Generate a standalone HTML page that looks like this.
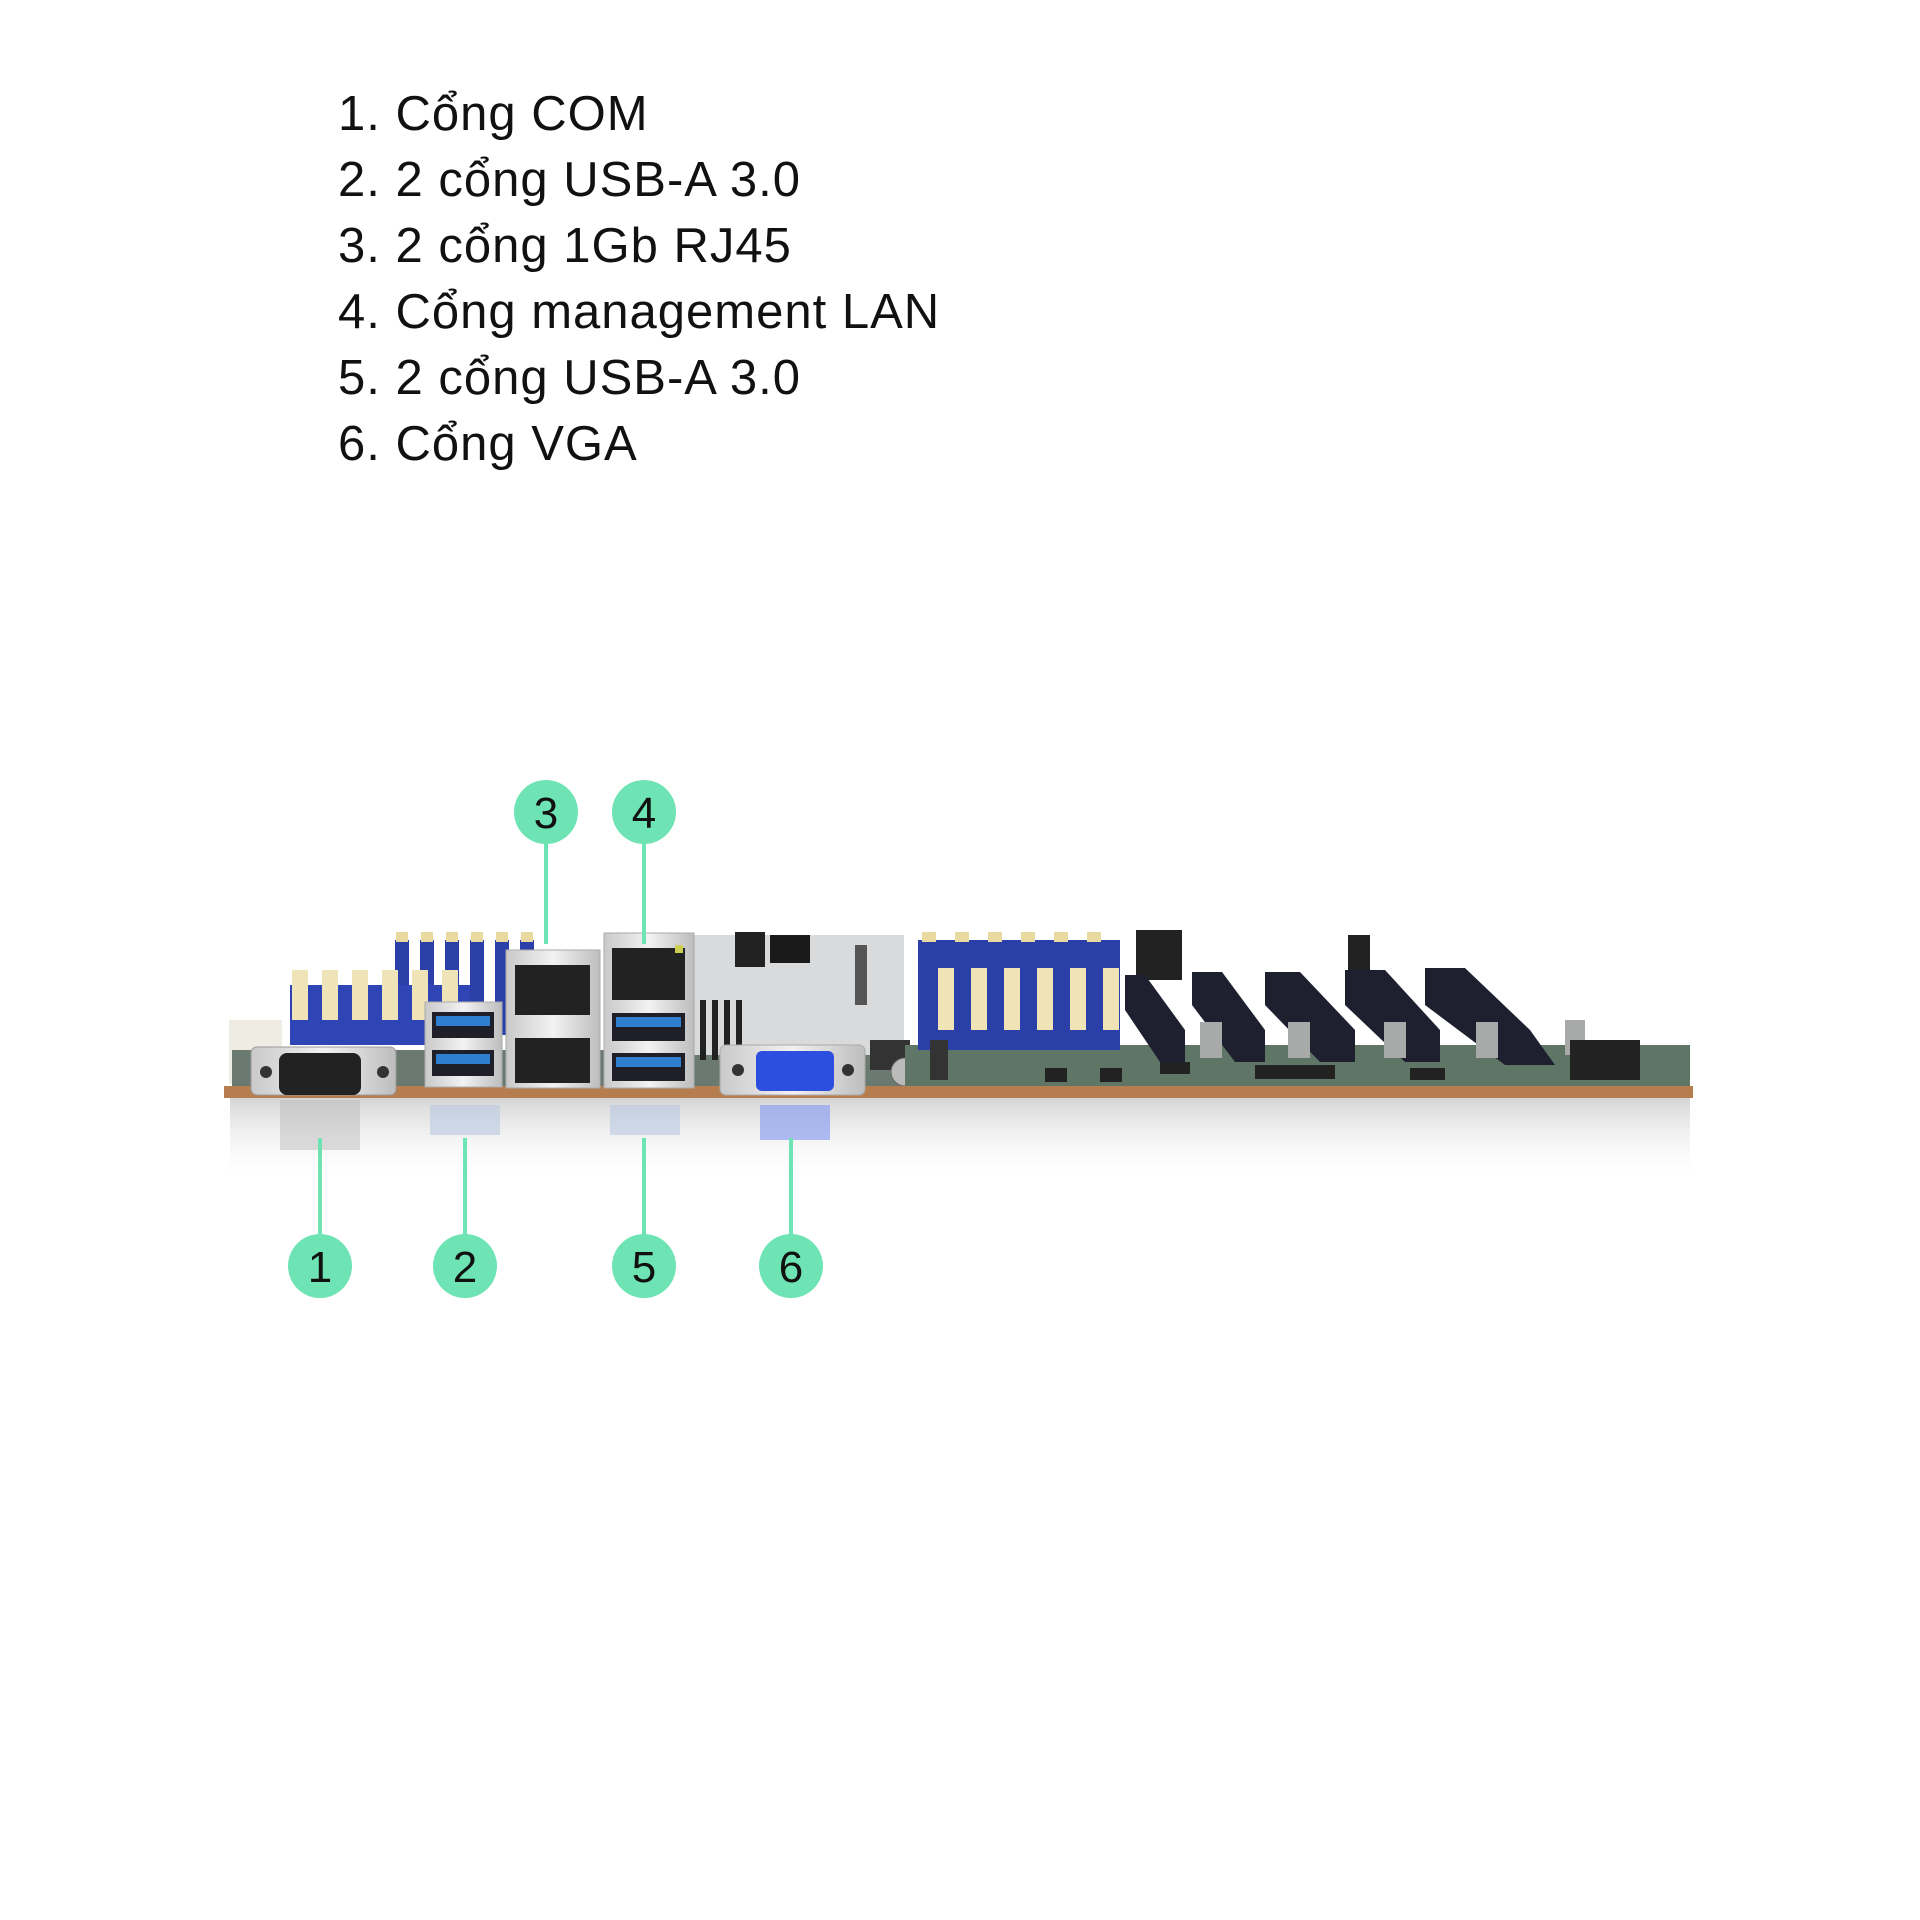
<!DOCTYPE html>
<html><head><meta charset="utf-8"><style>
html,body{margin:0;padding:0;background:#fff;width:1920px;height:1920px;overflow:hidden}
.t{position:absolute;left:338px;font-family:"Liberation Sans",sans-serif;font-size:49px;color:#111;line-height:66px;top:81px;letter-spacing:1px}
svg{position:absolute;left:0;top:0}
</style></head><body>
<div class="t">1. Cổng COM<br>2. 2 cổng USB-A 3.0<br>3. 2 cổng 1Gb RJ45<br>4. Cổng management LAN<br>5. 2 cổng USB-A 3.0<br>6. Cổng VGA</div>
<svg width="1920" height="1920" viewBox="0 0 1920 1920" font-family="Liberation Sans, sans-serif">
<defs>
<linearGradient id="refl" x1="0" y1="0" x2="0" y2="1">
<stop offset="0" stop-color="#d0d0d0" stop-opacity="0.9"/>
<stop offset="1" stop-color="#ffffff" stop-opacity="0"/>
</linearGradient>
<linearGradient id="silver" x1="0" y1="0" x2="1" y2="0">
<stop offset="0" stop-color="#c9c9c9"/><stop offset="0.5" stop-color="#f2f2f2"/><stop offset="1" stop-color="#bdbdbd"/>
</linearGradient>
</defs>
<rect x="230" y="1098" width="1460" height="85" fill="url(#refl)"/>
<rect x="280" y="1100" width="80" height="50" fill="#bbb" opacity="0.5"/>
<rect x="430" y="1105" width="70" height="30" fill="#b8c8e0" opacity="0.6"/>
<rect x="610" y="1105" width="70" height="30" fill="#b8c8e0" opacity="0.6"/>
<rect x="760" y="1105" width="70" height="35" fill="#8f9ff0" opacity="0.7"/>
<!-- back blue DIMMs left -->
<g fill="#2b3fa8">
<rect x="395" y="940" width="14" height="95"/><rect x="420" y="940" width="14" height="95"/><rect x="445" y="940" width="14" height="95"/><rect x="470" y="940" width="14" height="95"/><rect x="495" y="940" width="14" height="95"/><rect x="520" y="940" width="14" height="95"/>
</g>
<g fill="#e8d9a0"><rect x="396" y="932" width="12" height="10"/><rect x="421" y="932" width="12" height="10"/><rect x="446" y="932" width="12" height="10"/><rect x="471" y="932" width="12" height="10"/><rect x="496" y="932" width="12" height="10"/><rect x="521" y="932" width="12" height="10"/></g>
<rect x="290" y="985" width="180" height="60" fill="#2f44b5"/>
<g fill="#efe4b8"><rect x="292" y="970" width="16" height="50"/><rect x="322" y="970" width="16" height="50"/><rect x="352" y="970" width="16" height="50"/><rect x="382" y="970" width="16" height="50"/><rect x="412" y="970" width="16" height="50"/><rect x="442" y="970" width="16" height="50"/></g>
<rect x="229" y="1020" width="53" height="64" fill="#efece4"/>
<rect x="232" y="1050" width="700" height="38" fill="#6b7a70"/>
<!-- heatsink area -->
<rect x="694" y="935" width="210" height="120" fill="#d8dadb"/>
<g fill="#222"><rect x="700" y="1000" width="6" height="60"/><rect x="712" y="1000" width="6" height="60"/><rect x="724" y="1000" width="6" height="60"/><rect x="736" y="1000" width="6" height="60"/></g>
<rect x="735" y="932" width="30" height="35" fill="#222"/><rect x="770" y="935" width="40" height="28" fill="#1a1a1a"/>
<rect x="855" y="945" width="12" height="60" fill="#555"/>
<rect x="870" y="1040" width="40" height="30" fill="#333"/>
<circle cx="905" cy="1072" r="14" fill="#bbb" stroke="#666"/>
<!-- right green board -->
<rect x="905" y="1045" width="785" height="45" fill="#5f7566"/>
<g fill="#222"><rect x="1045" y="1068" width="22" height="14"/><rect x="1100" y="1068" width="22" height="14"/><rect x="1255" y="1065" width="80" height="14"/><rect x="1410" y="1068" width="35" height="12"/><rect x="1160" y="1062" width="30" height="12"/></g>
<!-- right DIMMs -->
<rect x="918" y="940" width="202" height="110" fill="#2b3fa8"/>
<g fill="#f0e3b6"><rect x="938" y="968" width="16" height="62"/><rect x="971" y="968" width="16" height="62"/><rect x="1004" y="968" width="16" height="62"/><rect x="1037" y="968" width="16" height="62"/><rect x="1070" y="968" width="16" height="62"/><rect x="1103" y="968" width="16" height="62"/></g>
<g fill="#e8d9a0"><rect x="922" y="932" width="14" height="10"/><rect x="955" y="932" width="14" height="10"/><rect x="988" y="932" width="14" height="10"/><rect x="1021" y="932" width="14" height="10"/><rect x="1054" y="932" width="14" height="10"/><rect x="1087" y="932" width="14" height="10"/></g>
<rect x="930" y="1040" width="18" height="40" fill="#333"/>
<!-- PCIe slots -->
<rect x="1136" y="930" width="46" height="50" fill="#222"/>
<rect x="1348" y="935" width="22" height="45" fill="#222"/>
<g fill="#1e2030">
<polygon points="1125,975 1145,975 1185,1030 1185,1062 1160,1062 1125,1010"/>
<polygon points="1192,972 1222,972 1265,1030 1265,1062 1235,1062 1192,1005"/>
<polygon points="1265,972 1300,972 1355,1030 1355,1062 1320,1062 1265,1005"/>
<polygon points="1345,970 1385,970 1440,1030 1440,1062 1405,1062 1345,1005"/>
<polygon points="1425,968 1465,968 1530,1030 1555,1065 1505,1065 1425,1005"/>
</g>
<g fill="#a8aaaa"><rect x="1200" y="1022" width="22" height="36"/><rect x="1288" y="1022" width="22" height="36"/><rect x="1384" y="1022" width="22" height="36"/><rect x="1476" y="1022" width="22" height="36"/><rect x="1565" y="1020" width="20" height="35"/></g>
<rect x="1570" y="1040" width="70" height="40" fill="#222"/>
<!-- PCB edge -->
<rect x="224" y="1086" width="1469" height="12" fill="#b67e4e"/>
<!-- COM -->
<rect x="251" y="1047" width="145" height="48" rx="6" fill="url(#silver)" stroke="#999"/>
<rect x="279" y="1053" width="82" height="42" rx="8" fill="#222"/>
<circle cx="266" cy="1072" r="6" fill="#333"/><circle cx="383" cy="1072" r="6" fill="#333"/>
<!-- USB stack 1 -->
<rect x="425" y="1002" width="77" height="85" fill="url(#silver)" stroke="#aaa"/>
<rect x="432" y="1012" width="62" height="26" fill="#1f1f2a"/><rect x="436" y="1016" width="54" height="10" fill="#2e7fd0"/>
<rect x="432" y="1050" width="62" height="26" fill="#1f1f2a"/><rect x="436" y="1054" width="54" height="10" fill="#2e7fd0"/>
<!-- RJ45 dual -->
<rect x="506" y="950" width="94" height="138" fill="url(#silver)" stroke="#aaa"/>
<rect x="515" y="965" width="75" height="50" fill="#222"/>
<rect x="515" y="1038" width="75" height="45" fill="#222"/>
<!-- RJ45 + USB -->
<rect x="604" y="933" width="90" height="155" fill="url(#silver)" stroke="#aaa"/>
<rect x="612" y="948" width="73" height="52" fill="#222"/>
<rect x="675" y="945" width="8" height="8" fill="#cdcd55"/>
<rect x="612" y="1013" width="73" height="28" fill="#1f1f2a"/><rect x="616" y="1017" width="65" height="10" fill="#2e7fd0"/>
<rect x="612" y="1053" width="73" height="28" fill="#1f1f2a"/><rect x="616" y="1057" width="65" height="10" fill="#2e7fd0"/>
<!-- VGA -->
<rect x="720" y="1045" width="145" height="50" rx="6" fill="url(#silver)" stroke="#aaa"/>
<rect x="756" y="1051" width="78" height="40" rx="6" fill="#2d4fe0"/>
<circle cx="738" cy="1070" r="6" fill="#333"/><circle cx="848" cy="1070" r="6" fill="#333"/>
<!-- callouts -->
<g stroke="#6ee3b4" stroke-width="4">
<line x1="546" y1="840" x2="546" y2="944"/><line x1="644" y1="840" x2="644" y2="944"/>
<line x1="320" y1="1138" x2="320" y2="1238"/><line x1="465" y1="1138" x2="465" y2="1238"/>
<line x1="644" y1="1138" x2="644" y2="1238"/><line x1="791" y1="1138" x2="791" y2="1238"/>
</g>
<g fill="#6ee3b4">
<circle cx="546" cy="812" r="32"/><circle cx="644" cy="812" r="32"/>
<circle cx="320" cy="1266" r="32"/><circle cx="465" cy="1266" r="32"/><circle cx="644" cy="1266" r="32"/><circle cx="791" cy="1266" r="32"/>
</g>
<g font-size="44" fill="#111" text-anchor="middle">
<text x="546" y="828">3</text><text x="644" y="828">4</text>
<text x="320" y="1282">1</text><text x="465" y="1282">2</text><text x="644" y="1282">5</text><text x="791" y="1282">6</text>
</g>
</svg>
</body></html>
